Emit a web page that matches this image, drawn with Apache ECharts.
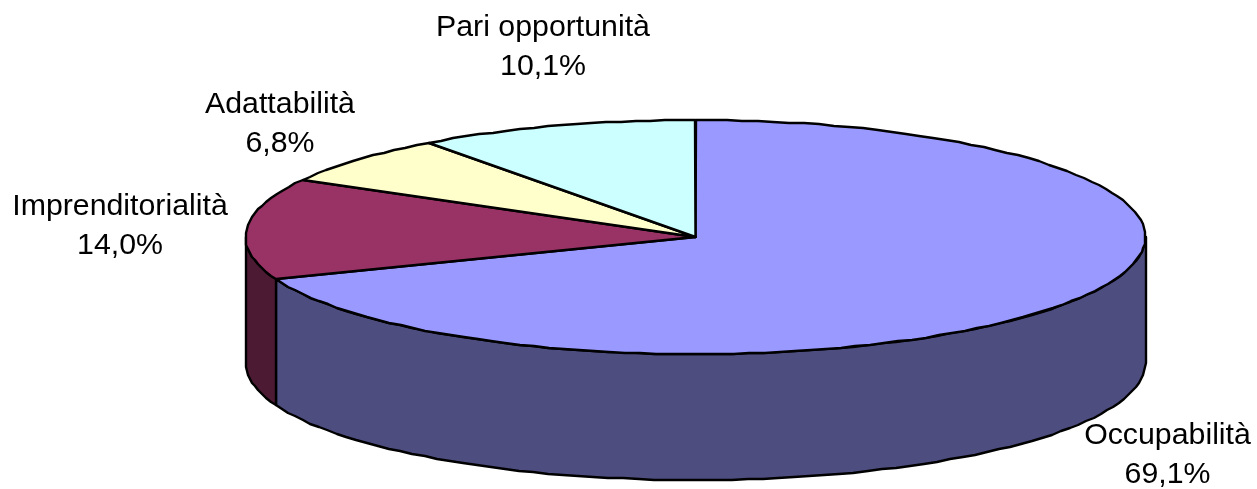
<!DOCTYPE html>
<html>
<head>
<meta charset="utf-8">
<style>html,body{margin:0;padding:0;background:#fff}#chart{width:1257px;height:489px}</style>
<script src="https://cdn.jsdelivr.net/npm/echarts@6/dist/echarts.min.js"></script>
</head>
<body>
<div id="chart"></div>
<script>
// Data
const categories = ['Occupabilità', 'Imprenditorialità', 'Adattabilità', 'Pari opportunità'];
const values = [69.1, 14.0, 6.8, 10.1];

// Style
const topColors = ['#9999FF', '#993366', '#FFFFCC', '#CCFFFF'];
const wallColors = ['#4D4D80', '#4D1A33', '#80805F', '#668080'];

// Layout of the tilted pie
const CX = 695.5, CY = 237, RX = 450, RY = 117, DEPTH = 126;
const labelCenters = [[1167.5, 455], [120, 226], [280, 124], [543, 47]];
const STEP = 2;

const total = values.reduce((a, b) => a + b, 0);
const cumulative = [];
values.reduce((acc, v, i) => { cumulative[i] = acc; return acc + v; }, 0);

const toAngle = v => v / total * 360;
function rimPoint(deg, dy) {
  const r = deg * Math.PI / 180;
  return [Math.round(CX + RX * Math.sin(r)),
          Math.round(CY - RY * Math.cos(r) + (dy || 0))];
}
function arcPoints(a0, a1, dy) {
  const pts = [];
  const n = Math.max(1, Math.ceil((a1 - a0) / STEP));
  for (let i = 0; i <= n; i++) pts.push(rimPoint(a0 + (a1 - a0) * i / n, dy));
  return pts;
}
const lineStyle = { stroke: '#000', lineWidth: 2.4, lineJoin: 'round' };

function renderWall(params, api) {
  const i = params.dataIndex;
  const a0 = toAngle(cumulative[i]);
  const a1 = a0 + toAngle(api.value(0));
  const s = Math.max(a0, 90), e = Math.min(a1, 270);
  if (e <= s) return { type: 'group', children: [] };
  const pts = arcPoints(s, e, 0).concat(arcPoints(s, e, DEPTH).reverse());
  return {
    type: 'polygon',
    shape: { points: pts },
    style: Object.assign({ fill: wallColors[i] }, lineStyle)
  };
}
function renderTop(params, api) {
  const i = params.dataIndex;
  const a0 = toAngle(cumulative[i]);
  const a1 = a0 + toAngle(api.value(0));
  const pts = [[CX, CY]].concat(arcPoints(a0, a1, 0));
  return {
    type: 'group',
    children: [
      { type: 'polygon', shape: { points: pts },
        style: Object.assign({ fill: topColors[i] }, lineStyle) },
      { type: 'text', z2: 10,
        style: {
          text: categories[i] + '\n' + api.value(0).toFixed(1).replace('.', ',') + '%',
          x: labelCenters[i][0], y: labelCenters[i][1],
          align: 'center', verticalAlign: 'middle',
          fontFamily: '"Liberation Sans", Arial, sans-serif',
          fontSize: 30.3, lineHeight: 39, fill: '#000'
        } }
    ]
  };
}
const chart = echarts.init(document.getElementById('chart'), null, { renderer: 'canvas' });
const seriesData = values.map((v, i) => ({ name: categories[i], value: [v] }));
chart.setOption({
  backgroundColor: '#fff',
  animation: false,
  series: [
    { type: 'custom', coordinateSystem: 'none', data: seriesData, renderItem: renderWall, z: 1, silent: true },
    { type: 'custom', coordinateSystem: 'none', data: seriesData, renderItem: renderTop, z: 2, silent: true }
  ]
});
</script>
</body>
</html>
